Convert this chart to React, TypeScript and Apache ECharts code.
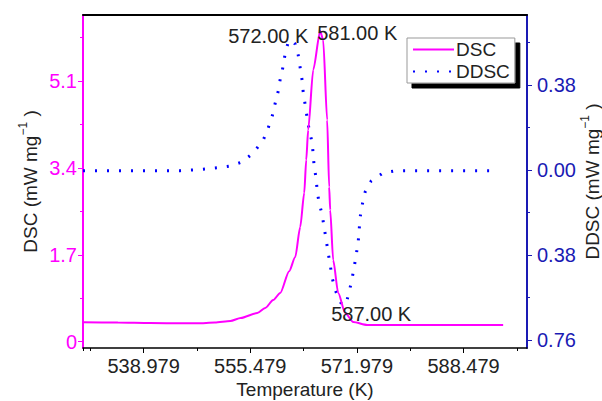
import React, { useEffect, useRef } from "react";
import * as echarts from "echarts";

// ---- data ----
const dscTemp = [529.6, 535, 540, 545, 547.3, 550, 552.4, 554, 556.56, 557.8, 559.03, 560.12, 561.5, 562.44, 563.21, 563.83, 564.14, 564.44, 565.22, 566.3, 566.76, 567.38, 567.69, 567.85, 568.31, 569.09, 570.17, 571.41, 573.57, 581.77, 594.61];
const dscValue = [0.38, 0.376, 0.366, 0.36, 0.36, 0.376, 0.405, 0.464, 0.561, 0.66, 0.816, 0.953, 1.38, 1.657, 2.244, 2.909, 3.554, 4.14, 5.315, 6.077, 5.901, 4.336, 3.026, 2.576, 1.598, 0.953, 0.561, 0.385, 0.327, 0.327, 0.327];

const ddscTemp = [529.6, 535, 540, 544.65, 546.66, 548.52, 550.37, 552.39, 554.24, 555.94, 557.49, 558.26, 558.88, 559.35, 559.81, 560.12, 560.58, 560.89, 561.36, 561.82, 562.44, 562.9, 563.21, 563.52, 563.67, 563.98, 564.29, 564.6, 565.07, 565.22, 565.38, 565.69, 565.84, 566.15, 566.61, 566.92, 567.23, 567.54, 567.85, 568.16, 568.62, 569.24, 569.7, 570.33, 570.79, 571.25, 571.56, 571.87, 572.18, 572.33, 572.49, 572.8, 573.26, 574.19, 576.04, 577.9, 579.91, 593.36];
const ddscValue = [-0.003, -0.003, -0.003, -0.003, 0.0, 0.0045, 0.01, 0.018, 0.036, 0.076, 0.134, 0.188, 0.241, 0.3, 0.353, 0.407, 0.465, 0.523, 0.572, 0.581, 0.563, 0.514, 0.456, 0.398, 0.349, 0.291, 0.232, 0.179, 0.121, 0.067, 0.013, -0.04, -0.098, -0.148, -0.201, -0.259, -0.313, -0.371, -0.425, -0.483, -0.536, -0.581, -0.604, -0.595, -0.545, -0.483, -0.434, -0.38, -0.322, -0.268, -0.21, -0.156, -0.098, -0.049, -0.013, -0.004, -0.003, -0.003];

const xMajorTicks = [538.979, 555.479, 571.979, 588.479];
const xMinorTicks = [529.6, 530.729, 547.229, 563.729, 580.229, 596.729];
const leftMajorTicks = [0, 1.7, 3.4, 5.1];
const leftMinorTicks = [0.85, 2.55, 4.25, 5.95];
const rightMajorTicks = [-0.76, -0.38, 0, 0.38];
const rightMinorTicks = [-0.57, -0.19, 0.19, 0.57];

const annotations = [
  { series: "DDSC", coord: [561.82, 0.581], text: "572.00 K", offset: [-23, -4] },
  { series: "DSC", coord: [566.3, 6.077], text: "581.00 K", offset: [37, 2] },
  { series: "DDSC", coord: [569.7, -0.604], text: "587.00 K", offset: [29, 9] },
];

const X_MIN = 529.6;
const X_MAX = 598.3;
const L_MIN = -0.123;
const L_MAX = 6.39;
const R_MIN = -0.796;
const R_MAX = 0.693;

const MAGENTA = "#ff00ff";
const BLUE = "#0000ff";
const RBLUE = "#1a1ab4";
const TXT = "#222222";
const FONT = "Liberation Sans";
const TICK_FS = 20;

export default function App() {
  const ref = useRef<HTMLDivElement>(null);
  useEffect(() => {
    if (!ref.current) return;
    const chart = echarts.init(ref.current, null, { renderer: "svg" });
    const zip = (a: number[], b: number[]) => a.map((v, i) => [v, b[i]]);
    const markFor = (name: string) => ({
      symbol: "circle",
      symbolSize: 1,
      itemStyle: { color: "rgba(0,0,0,0)" },
      label: {
        show: true,
        position: "inside",
        color: TXT,
        fontSize: 20,
        fontFamily: FONT,
      },
      data: annotations
        .filter((a) => a.series === name)
        .map((a) => ({ coord: a.coord, label: { formatter: a.text, offset: a.offset } })),
    });
    const nameRich = {
      a: { fontSize: 19, fontFamily: FONT, color: TXT, lineHeight: 26, verticalAlign: "middle" },
      s: { fontSize: 12, fontFamily: FONT, color: TXT, verticalAlign: "top", lineHeight: 14 },
    };
    chart.setOption({
      animation: false,
      textStyle: { fontFamily: FONT },
      grid: { left: 83, right: 75, top: 15, bottom: 53, outerBoundsMode: "none", containLabel: false },
      legend: {
        data: ["DSC", "DDSC"],
        orient: "vertical",
        left: 407,
        top: 38,
        itemWidth: 41,
        itemHeight: 12,
        itemGap: 3,
        padding: [2, 5, 2, 5],
        backgroundColor: "#ffffff",
        borderColor: "#999999",
        borderWidth: 1,
        shadowColor: "#000000",
        shadowBlur: 0,
        shadowOffsetX: 5,
        shadowOffsetY: 5,
        itemStyle: { opacity: 0 },
        textStyle: { fontSize: 19, color: TXT, fontFamily: FONT, padding: [0, 0, 0, -3] },
      },
      xAxis: [
        {
          type: "value",
          min: X_MIN,
          max: X_MAX,
          position: "bottom",
          axisLine: { show: true, onZero: false, lineStyle: { color: "#000", width: 1.5 } },
          axisTick: { show: true, customValues: xMajorTicks, length: 5, lineStyle: { color: "#000", width: 1 } },
          axisLabel: {
            customValues: xMajorTicks,
            formatter: (v: number) => v.toFixed(3),
            fontSize: TICK_FS,
            color: TXT,
            fontFamily: FONT,
            margin: 8,
          },
          splitLine: { show: false },
          name: "Temperature (K)",
          nameLocation: "middle",
          nameGap: 32,
          nameMoveOverlap: false,
          nameTextStyle: { fontSize: 19, color: TXT, fontFamily: FONT },
        },
        {
          type: "value",
          min: X_MIN,
          max: X_MAX,
          position: "bottom",
          axisLine: { show: false, onZero: false },
          axisTick: { show: true, customValues: xMinorTicks, length: 3, lineStyle: { color: "#000" } },
          axisLabel: { show: false },
          splitLine: { show: false },
        },
        {
          type: "value",
          min: X_MIN,
          max: X_MAX,
          position: "top",
          axisLine: { show: true, onZero: false, lineStyle: { color: "#000", width: 2 } },
          axisTick: { show: false },
          axisLabel: { show: false },
          splitLine: { show: false },
        },
      ],
      yAxis: [
        {
          type: "value",
          min: L_MIN,
          max: L_MAX,
          position: "left",
          axisLine: { show: true, onZero: false, lineStyle: { color: MAGENTA, width: 2 } },
          axisTick: { show: true, customValues: leftMajorTicks, length: 5, lineStyle: { color: MAGENTA } },
          axisLabel: {
            customValues: leftMajorTicks,
            formatter: (v: number) => (v === 0 ? "0" : v.toFixed(1)),
            fontSize: TICK_FS,
            color: MAGENTA,
            fontFamily: FONT,
            margin: 6,
          },
          splitLine: { show: false },
          name: "{a|DSC (mW mg}{s|−1}{a| )}",
          nameLocation: "middle",
          nameRotate: 90,
          nameGap: 40,
          nameMoveOverlap: false,
          nameTextStyle: { rich: nameRich },
        },
        {
          type: "value",
          min: L_MIN,
          max: L_MAX,
          position: "left",
          axisLine: { show: false, onZero: false },
          axisTick: { show: true, customValues: leftMinorTicks, length: 3, lineStyle: { color: MAGENTA } },
          axisLabel: { show: false },
          splitLine: { show: false },
        },
        {
          type: "value",
          min: R_MIN,
          max: R_MAX,
          position: "right",
          axisLine: { show: true, onZero: false, lineStyle: { color: RBLUE, width: 2 } },
          axisTick: { show: true, customValues: rightMajorTicks, length: 5, lineStyle: { color: RBLUE } },
          axisLabel: {
            customValues: rightMajorTicks,
            formatter: (v: number) => Math.abs(v).toFixed(2),
            fontSize: TICK_FS,
            color: RBLUE,
            fontFamily: FONT,
            margin: 10,
          },
          splitLine: { show: false },
          name: "{a|DDSC (mW mg}{s|−1}{a| )}",
          nameLocation: "middle",
          nameRotate: 90,
          nameGap: 52,
          nameMoveOverlap: false,
          nameTextStyle: { rich: nameRich },
        },
        {
          type: "value",
          min: R_MIN,
          max: R_MAX,
          position: "right",
          axisLine: { show: false, onZero: false },
          axisTick: { show: true, customValues: rightMinorTicks, length: 3, lineStyle: { color: RBLUE } },
          axisLabel: { show: false },
          splitLine: { show: false },
        },
      ],
      series: [
        {
          name: "DSC",
          type: "line",
          xAxisIndex: 0,
          yAxisIndex: 0,
          data: zip(dscTemp, dscValue),
          symbol: "none",
          smooth: 0.25,
          smoothMonotone: "x",
          color: MAGENTA,
          lineStyle: { color: MAGENTA, width: 2 },
          markPoint: markFor("DSC"),
          z: 3,
        },
        {
          name: "DDSC",
          type: "line",
          xAxisIndex: 0,
          yAxisIndex: 2,
          data: zip(ddscTemp, ddscValue),
          symbol: "none",
          color: BLUE,
          lineStyle: { color: BLUE, width: 3, type: [2, 10] },
          markPoint: markFor("DDSC"),
          z: 2,
        },
      ],
    });
    return () => chart.dispose();
  }, []);
  return (
    <div
      ref={ref}
      style={{ position: "fixed", left: 0, top: 0, width: 602, height: 401, background: "#fff" }}
    />
  );
}
